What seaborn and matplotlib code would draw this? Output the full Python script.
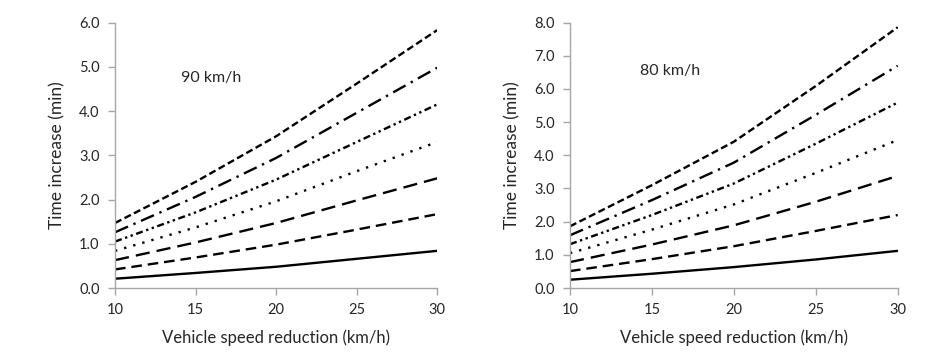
import matplotlib
matplotlib.use("Agg")
import matplotlib.pyplot as plt
import pandas as pd
import seaborn as sns

# speed reduction (km/h)
reduction = [10, 15, 20, 25, 30]

# time increase (min), 90 km/h panel, lowest line first
t90_1 = [0.21, 0.34, 0.48, 0.66, 0.84]
t90_2 = [0.42, 0.69, 0.98, 1.32, 1.67]
t90_3 = [0.63, 1.03, 1.47, 1.98, 2.48]
t90_4 = [0.84, 1.37, 1.96, 2.64, 3.30]
t90_5 = [1.05, 1.71, 2.45, 3.30, 4.15]
t90_6 = [1.26, 2.06, 2.94, 3.96, 4.98]
t90_7 = [1.47, 2.40, 3.43, 4.62, 5.83]

# time increase (min), 80 km/h panel
t80_1 = [0.25, 0.43, 0.63, 0.86, 1.12]
t80_2 = [0.51, 0.87, 1.26, 1.72, 2.20]
t80_3 = [0.78, 1.31, 1.89, 2.60, 3.38]
t80_4 = [1.05, 1.76, 2.52, 3.47, 4.46]
t80_5 = [1.32, 2.20, 3.15, 4.35, 5.59]
t80_6 = [1.59, 2.65, 3.78, 5.22, 6.70]
t80_7 = [1.86, 3.10, 4.41, 6.09, 7.86]

series_names = ["s1", "s2", "s3", "s4", "s5", "s6", "s7"]


def to_long(lines):
    rows = []
    for name, vals in zip(series_names, lines):
        for x, y in zip(reduction, vals):
            rows.append({"x": x, "y": y, "series": name})
    return pd.DataFrame(rows)


df90 = to_long([t90_1, t90_2, t90_3, t90_4, t90_5, t90_6, t90_7])
df80 = to_long([t80_1, t80_2, t80_3, t80_4, t80_5, t80_6, t80_7])

dash_map = {
    "s1": "",
    "s2": (4.5, 2.5),
    "s3": (6, 3),
    "s4": (1, 3),
    "s5": (3, 1.5, 1, 1.5, 1, 1.5),
    "s6": (6, 2.5, 1, 2.5),
    "s7": (3, 1.5),
}

sns.set_style("white")
plt.rcParams["font.family"] = ["Lato", "DejaVu Sans"]

fig = plt.figure(figsize=(9.39, 3.63), dpi=100)
ax1 = fig.add_axes([0.1225, 0.2066, 0.343, 0.731])
ax2 = fig.add_axes([0.607, 0.2066, 0.349, 0.731])

grey = "#a6a6a6"
panels = [
    (ax1, df90, 6, "90 km/h", 14.1, 4.75),
    (ax2, df80, 8, "80 km/h", 14.3, 6.55),
]
for ax, df, ymax, label, tx, ty in panels:
    sns.lineplot(data=df, x="x", y="y", style="series", dashes=dash_map,
                 color="black", linewidth=1.7, legend=False, ax=ax)
    ax.set_xlim(10, 30)
    ax.set_ylim(0, ymax)
    ax.set_xticks([10, 15, 20, 25, 30])
    ax.set_yticks(range(0, ymax + 1))
    ax.set_yticklabels([f"{v:.1f}" for v in range(0, ymax + 1)])
    ax.set_xlabel("Vehicle speed reduction (km/h)", fontsize=12, labelpad=9)
    ax.set_ylabel("Time increase (min)", fontsize=12.5, labelpad=10)
    ax.tick_params(axis="both", which="both", direction="out", length=5,
                   width=1, color=grey, labelsize=10.5, pad=6,
                   bottom=True, left=True)
    for side in ["top", "right"]:
        ax.spines[side].set_visible(False)
    for side in ["left", "bottom"]:
        ax.spines[side].set_color(grey)
        ax.spines[side].set_linewidth(1)
    ax.text(tx, ty, label, fontsize=11.5, va="center")

fig.savefig("out.png", dpi=100)
